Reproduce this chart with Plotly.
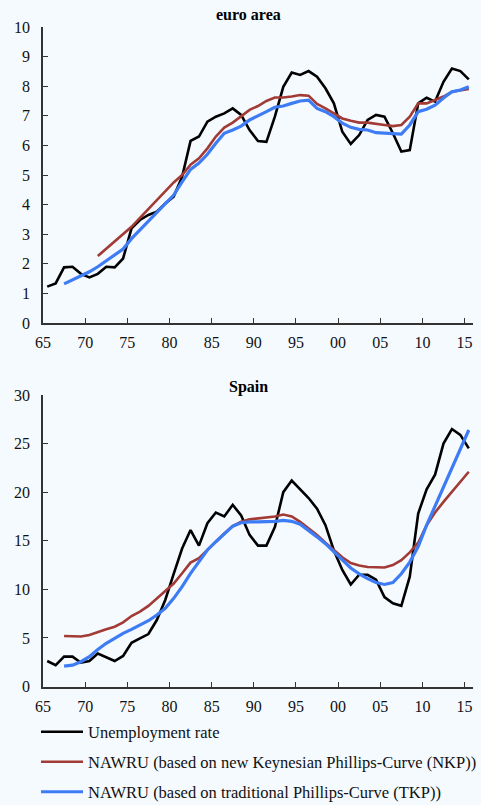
import plotly.graph_objects as go

# yearly data, 1965-2015
years = list(range(1965, 2016))

ea_unemp = [1.23, 1.34, 1.88, 1.90, 1.66, 1.54, 1.66, 1.90, 1.88, 2.18,
            3.20, 3.48, 3.65, 3.76, 4.04, 4.27, 4.94, 6.15, 6.30, 6.80,
            6.97, 7.08, 7.25, 7.03, 6.52, 6.15, 6.12, 6.97, 7.98, 8.46,
            8.38, 8.51, 8.32, 7.93, 7.42, 6.46, 6.05, 6.35, 6.86, 7.03,
            6.97, 6.41, 5.79, 5.84, 7.42, 7.61, 7.48, 8.15, 8.60, 8.51, 8.23]
# NKP estimate starts in 1971
ea_nkp_start = 1971
ea_nkp = [2.26, 2.50, 2.75, 3.00, 3.25, 3.55, 3.85, 4.15, 4.45, 4.75,
          5.00, 5.35, 5.56, 5.90, 6.30, 6.60, 6.77, 6.97, 7.20, 7.33,
          7.50, 7.62, 7.62, 7.65, 7.70, 7.68, 7.40, 7.25, 7.08, 6.91,
          6.83, 6.77, 6.77, 6.72, 6.69, 6.65, 6.69, 6.97, 7.42, 7.42,
          7.53, 7.65, 7.81, 7.87, 7.91]
# TKP estimate starts in 1967
ea_tkp_start = 1967
ea_tkp = [1.32, 1.45, 1.60, 1.73, 1.90, 2.10, 2.30, 2.50, 2.85, 3.15,
          3.45, 3.75, 4.04, 4.32, 4.77, 5.19, 5.40, 5.70, 6.07, 6.41,
          6.52, 6.65, 6.86, 6.99, 7.14, 7.29, 7.33, 7.42, 7.50, 7.53,
          7.25, 7.14, 6.97, 6.75, 6.61, 6.54, 6.52, 6.43, 6.41, 6.38,
          6.38, 6.69, 7.14, 7.22, 7.36, 7.60, 7.81, 7.87, 7.98]

es_unemp = [2.62, 2.20, 3.07, 3.07, 2.45, 2.62, 3.40, 2.97, 2.62, 3.14,
            4.50, 4.95, 5.40, 6.84, 8.90, 11.6, 14.2, 16.1, 14.5, 16.8,
            17.9, 17.5, 18.7, 17.6, 15.6, 14.5, 14.5, 16.4, 20.0, 21.2,
            20.3, 19.4, 18.3, 16.6, 14.0, 12.0, 10.5, 11.5, 11.5, 11.0,
            9.2, 8.56, 8.30, 11.3, 17.8, 20.3, 21.8, 25.0, 26.5, 25.9, 24.5]
es_nkp_start = 1967
es_nkp = [5.20, 5.14, 5.14, 5.30, 5.64, 5.90, 6.15, 6.60, 7.25, 7.70,
          8.30, 9.07, 9.82, 10.6, 11.65, 12.75, 13.2, 14.05, 15.0, 15.75,
          16.5, 16.95, 17.2, 17.3, 17.4, 17.5, 17.7, 17.5, 16.95, 16.3,
          15.6, 14.8, 14.0, 13.3, 12.7, 12.45, 12.3, 12.25, 12.25, 12.5,
          13.0, 13.8, 14.8, 16.6, 17.9, 19.0, 20.0, 21.1, 22.1]
es_tkp_start = 1967
es_tkp = [2.10, 2.20, 2.55, 3.07, 3.80, 4.45, 4.95, 5.47, 5.88, 6.33,
          6.77, 7.36, 8.05, 9.07, 10.27, 11.65, 12.85, 14.05, 14.9, 15.7,
          16.5, 16.85, 16.95, 16.95, 16.95, 17.0, 17.1, 17.0, 16.7, 16.1,
          15.4, 14.7, 13.9, 13.0, 12.2, 11.6, 11.1, 10.7, 10.5, 10.7,
          11.6, 12.8, 14.4, 16.6, 18.6, 20.6, 22.6, 24.5, 26.4]

tick_years = list(range(1965, 2016, 5))
tick_text = ["65", "70", "75", "80", "85", "90", "95", "00", "05", "10", "15"]

names = ["Unemployment rate",
         "NAWRU (based on new Keynesian Phillips-Curve (NKP))",
         "NAWRU (based on traditional Phillips-Curve (TKP))"]
colors = ["#000000", "#A23A35", "#3D7CF4"]
widths = [2.6, 2.6, 3.2]
legends = ["legend", "legend2", "legend3"]

FONT = "Liberation Serif, Times New Roman, serif"
BG = "#F5FAFE"
AXIS = "#333333"


def mid(start, n):
    # values are annual, plotted in the middle of each year
    return [start + i + 0.5 for i in range(n)]


fig = go.Figure()

panels = [
    ("x", "y", [(1965, ea_unemp), (ea_nkp_start, ea_nkp), (ea_tkp_start, ea_tkp)]),
    ("x2", "y2", [(1965, es_unemp), (es_nkp_start, es_nkp), (es_tkp_start, es_tkp)]),
]
for p, (xa, ya, series) in enumerate(panels):
    for i, (start, vals) in enumerate(series):
        fig.add_trace(go.Scatter(
            x=mid(start, len(vals)), y=vals, xaxis=xa, yaxis=ya,
            mode="lines", name=names[i],
            line=dict(color=colors[i], width=widths[i]),
            showlegend=(p == 0), legend=legends[i],
        ))

H = 805.0
W = 481.0
xdom = [43 / W, 473 / W]

axis_common = dict(
    showline=True, linecolor=AXIS, linewidth=1.7,
    ticks="inside", ticklen=5, tickwidth=1.2, tickcolor=AXIS,
    showgrid=False, zeroline=False, automargin=False,
    tickfont=dict(family=FONT, size=16, color="#111111"),
)

legend_common = dict(
    x=36 / W, xanchor="left", yanchor="middle",
    bgcolor="rgba(0,0,0,0)", itemwidth=42,
    font=dict(family=FONT, size=16.5, color="#111111"),
)

fig.update_layout(
    width=481, height=805,
    margin=dict(l=0, r=0, t=0, b=0, autoexpand=False),
    paper_bgcolor=BG, plot_bgcolor=BG,
    font=dict(family=FONT),
    xaxis=dict(domain=xdom, range=[1965, 2016], anchor="y",
               tickvals=tick_years, ticktext=tick_text, ticklabelstandoff=4,
               **axis_common),
    yaxis=dict(domain=[1 - 323 / H, 1 - 27 / H], range=[0, 10], dtick=1,
               anchor="x", ticklabelstandoff=8, **axis_common),
    xaxis2=dict(domain=xdom, range=[1965, 2016], anchor="y2",
                tickvals=tick_years, ticktext=tick_text, ticklabelstandoff=4,
                **axis_common),
    yaxis2=dict(domain=[1 - 686.5 / H, 1 - 395 / H], range=[0, 30], dtick=5,
                anchor="x2", ticklabelstandoff=8, **axis_common),
    legend=dict(y=1 - 732 / H, **legend_common),
    legend2=dict(y=1 - 762 / H, **legend_common),
    legend3=dict(y=1 - 792 / H, **legend_common),
    annotations=[
        dict(text="<b>euro area</b>", x=248 / W, y=1 - 14 / H,
             xref="paper", yref="paper", showarrow=False,
             xanchor="center", yanchor="middle",
             font=dict(family=FONT, size=16, color="#000000")),
        dict(text="<b>Spain</b>", x=248 / W, y=1 - 387 / H,
             xref="paper", yref="paper", showarrow=False,
             xanchor="center", yanchor="middle",
             font=dict(family=FONT, size=16, color="#000000")),
    ],
)

# drop the default page margin so the chart fills the window
fig.write_html(
    "out.html",
    config={"displayModeBar": False},
    post_script="document.body.style.margin='0';"
                "document.body.style.background='" + BG + "';",
)
